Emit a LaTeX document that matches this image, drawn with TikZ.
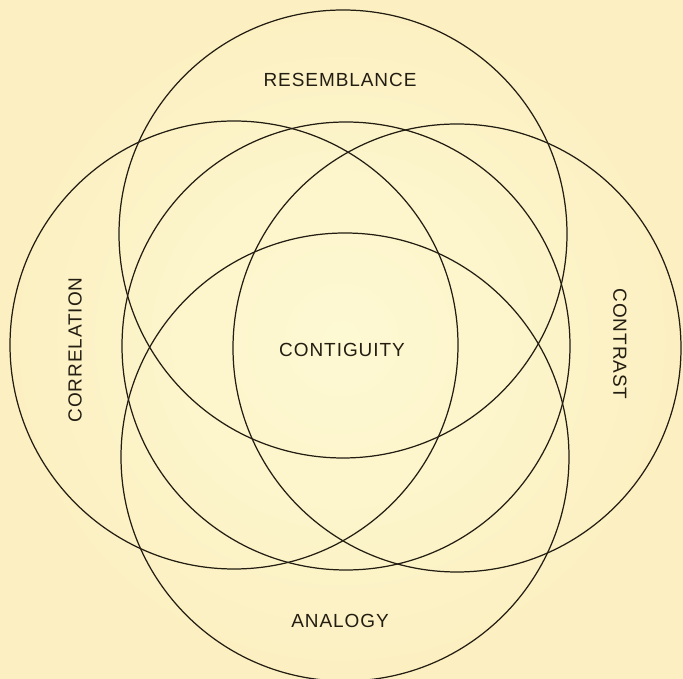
\documentclass[tikz,border=0pt]{standalone}
\usepackage{fontspec}
\usepackage{tikz}
\newfontfamily\labelfont{Liberation Sans}[LetterSpace=5]
\definecolor{ink}{HTML}{231D12}
\definecolor{paper}{HTML}{FDF9D3}
\definecolor{paperedge}{HTML}{FCF0C2}

\begin{document}
\begin{tikzpicture}[
  x=0.02cm, y=0.02cm,
  ring/.style={draw=ink, line width=0.7pt},
  lbl/.style={font=\labelfont\fontsize{10.8}{12}\selectfont, text=ink, inner sep=0pt}
]
%% Page and background
\useasboundingbox (0,0) rectangle (683,679);
\shade[inner color=paper, outer color=paperedge] (0,0) rectangle (683,679);

%% Circle centres (four around a middle one)
\coordinate (ctop)   at (343,445);
\coordinate (cleft)  at (234,334);
\coordinate (cmid)   at (346,333);
\coordinate (cright) at (457,331);
\coordinate (cbot)   at (345,222);

\foreach \c in {ctop,cleft,cmid,cright,cbot}
  \draw[ring] (\c) circle (224);

%% Labels
\node[lbl] (resemblance) at (340,599) {RESEMBLANCE};
\node[lbl] (contiguity) at (342,329) {CONTIGUITY};
\node[lbl, rotate=90] (correlation) at (75,329) {CORRELATION};
\node[lbl, rotate=-90] (contrast) at (620,335) {CONTRAST};
\node[lbl] (analogy) at (340,58) {ANALOGY};
\end{tikzpicture}
\end{document}
